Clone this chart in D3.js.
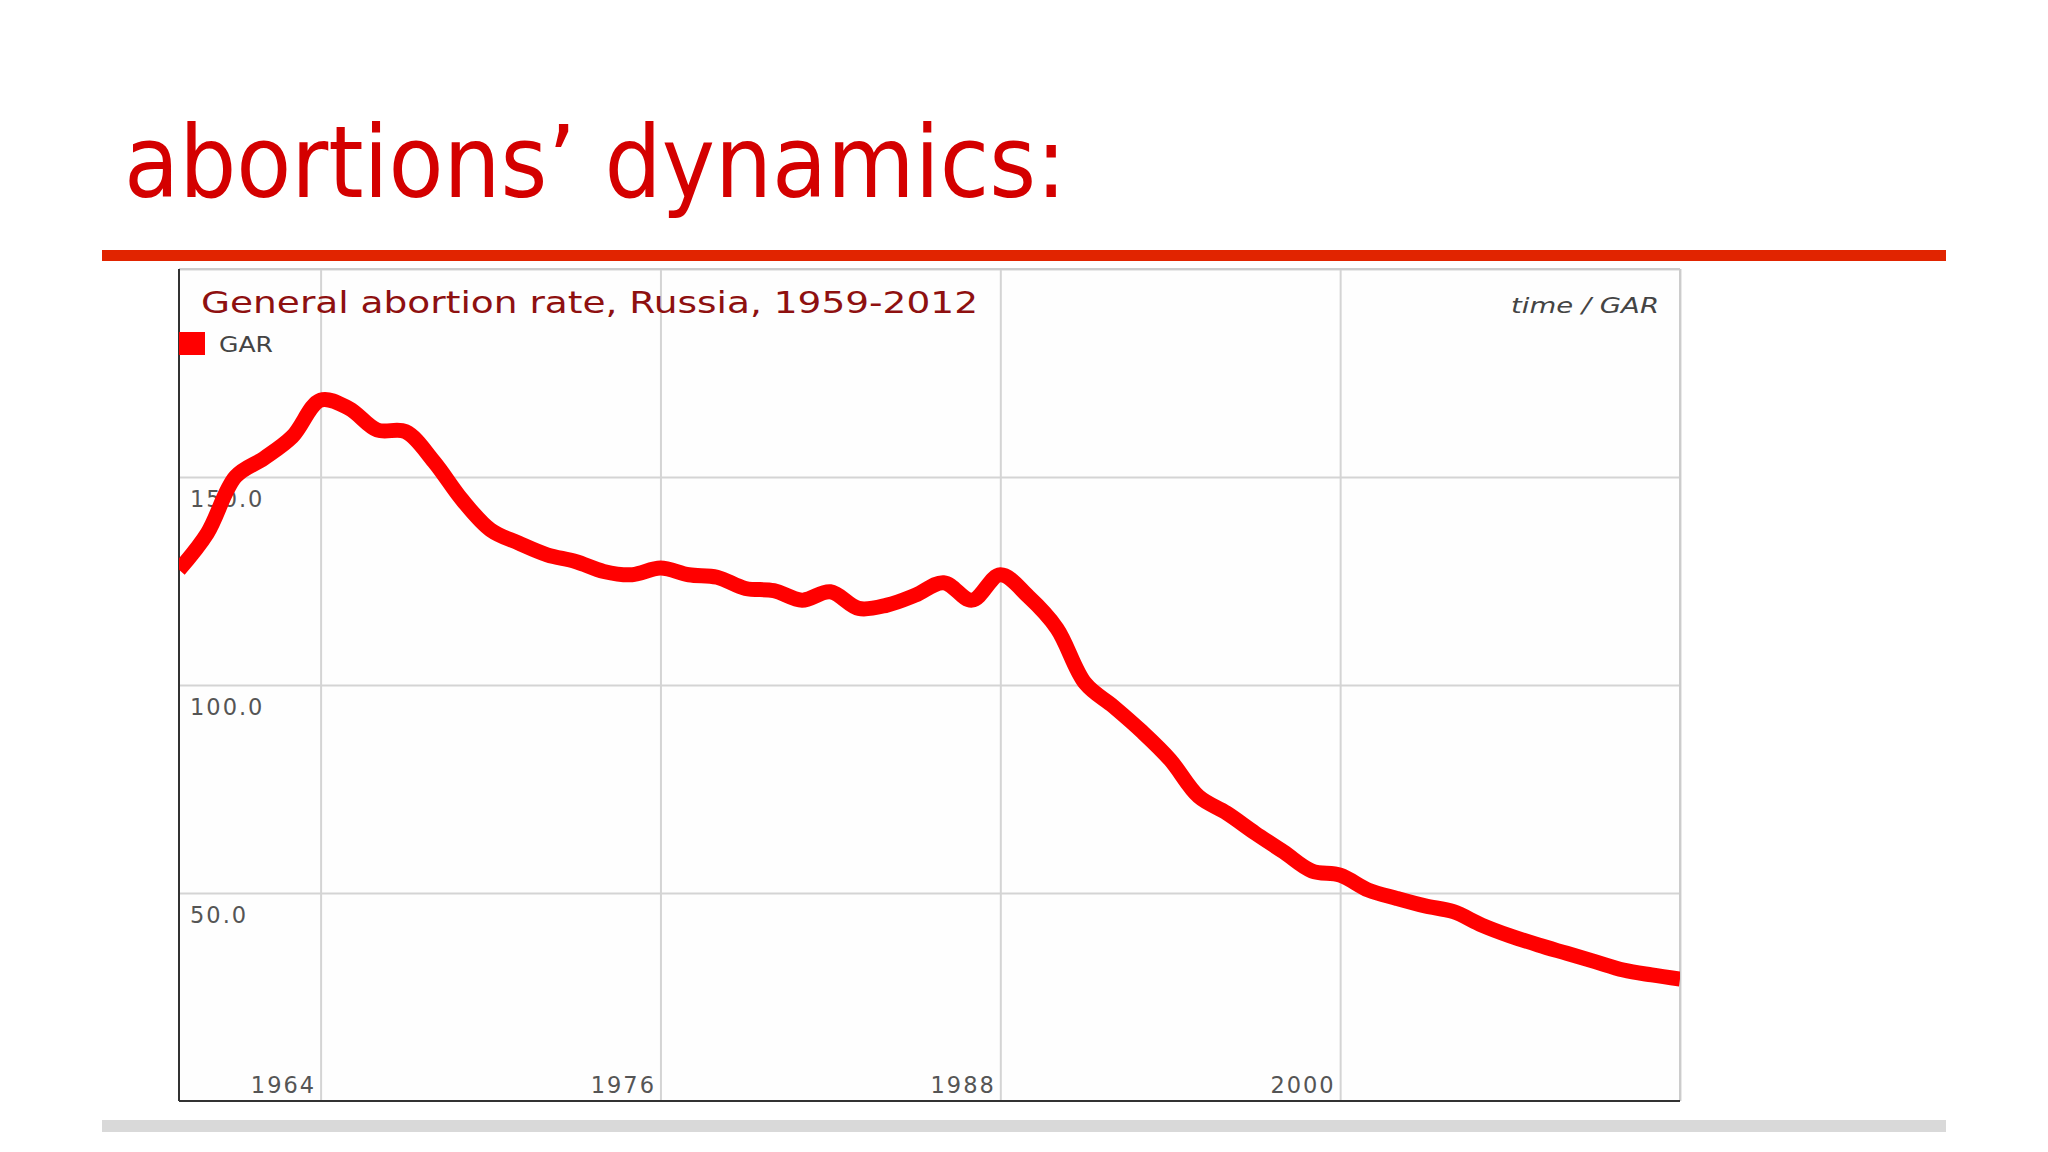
<!DOCTYPE html>
<html>
<head>
<meta charset="utf-8">
<script src="https://cdn.jsdelivr.net/npm/d3@7"></script>
<style>
  body { margin: 0; background: #ffffff; }
  svg { display: block; }
  .tick line { stroke: #d4d4d4; stroke-width: 2px; }
  .tick text { fill: #555; font-family: "DejaVu Sans", sans-serif; font-size: 22.5px; letter-spacing: 2px; }
</style>
</head>
<body>
<svg width="2048" height="1152"></svg>
<script>
// GAR values, one per year 1959-2012
const years = d3.range(1959, 2013);
const garValues = [
  127.7, 136.5, 150.1, 154.5, 159.7, 168.5, 166.5, 161.3, 160.9, 153.7,
  144.5, 137.3, 134.1, 131.3, 129.7, 127.3, 126.5, 128.1, 126.5, 125.9,
  123.2, 122.7, 120.4, 122.4, 118.4, 119.2, 121.6, 124.6, 120.4, 126.5,
  121.2, 113.6, 100.4, 94.8, 88.8, 82.0, 73.2, 69.2, 64.4, 59.9,
  55.3, 54.3, 50.7, 48.7, 46.9, 45.5, 42.3, 39.7, 37.5, 35.5,
  33.5, 31.5, 30.3, 29.3
];
const xTicks = [1964, 1976, 1988, 2000, 2012];
const yTicks = [50, 100, 150, 200];
const pageTitle = "abortions\u2019 dynamics:";
const chartTitle = "General abortion rate, Russia, 1959-2012";
const seriesName = "GAR";

const svg = d3.select("svg");
const margin = { top: 269, left: 179 };
const width = 1501;
const height = 832;

// slide heading + red rule + grey footer bar
svg.append("text")
  .attr("x", 124).attr("y", 197)
  .style("font-family", '"DejaVu Sans Condensed", "DejaVu Sans", sans-serif')
  .style("font-size", "100px")
  .style("fill", "#d40000")
  .text(pageTitle);

svg.append("rect").attr("x", 102).attr("y", 250).attr("width", 1844).attr("height", 11).attr("fill", "#e12400");
svg.append("rect").attr("x", 102).attr("y", 1120).attr("width", 1844).attr("height", 12).attr("fill", "#d9d9d9");

const g = svg.append("g").attr("transform", `translate(${margin.left},${margin.top})`);

g.append("rect").attr("width", width).attr("height", height).attr("fill", "#fefefe");

const xScale = d3.scaleLinear().domain([1959, 2012]).range([0, width]);
const yScale = d3.scaleLinear().domain([0, 200]).range([height, 0]);

// vertical grid + year labels
const xAxis = d3.axisBottom(xScale)
  .tickValues(xTicks)
  .tickSize(-height)
  .tickFormat(d => d === 2012 ? "" : d);
const gx = g.append("g").attr("transform", `translate(0,${height})`).call(xAxis);
gx.select(".domain").remove();
gx.selectAll(".tick text")
  .attr("text-anchor", "end")
  .attr("x", -5)
  .attr("y", -8.5)
  .attr("dy", 0);

// horizontal grid + value labels
const yAxis = d3.axisLeft(yScale)
  .tickValues(yTicks)
  .tickSize(-width)
  .tickFormat(d => d === 200 ? "" : d.toFixed(1));
const gy = g.append("g").call(yAxis);
gy.select(".domain").remove();
gy.selectAll(".tick text")
  .attr("text-anchor", "start")
  .attr("x", 11)
  .attr("y", 29.5)
  .attr("dy", 0);

// frame: light top/right, dark left/bottom
g.append("line").attr("x1", 0).attr("x2", width).attr("y1", 0).attr("y2", 0).attr("stroke", "#cccccc").attr("stroke-width", 2);
g.append("line").attr("x1", width).attr("x2", width).attr("y1", 0).attr("y2", height).attr("stroke", "#cccccc").attr("stroke-width", 2);
g.append("line").attr("x1", 0).attr("x2", 0).attr("y1", 0).attr("y2", height).attr("stroke", "#333333").attr("stroke-width", 2);
g.append("line").attr("x1", 0).attr("x2", width).attr("y1", height).attr("y2", height).attr("stroke", "#333333").attr("stroke-width", 2);

g.append("clipPath").attr("id", "plot-clip")
  .append("rect").attr("width", width).attr("height", height);

const chartData = years.map((yr, i) => ({ year: yr, gar: garValues[i] }));

const lineGar = d3.line()
  .x(d => xScale(d.year))
  .y(d => yScale(d.gar))
  .curve(d3.curveCatmullRom.alpha(0.5));

g.append("path")
  .datum(chartData)
  .attr("clip-path", "url(#plot-clip)")
  .attr("d", lineGar)
  .attr("fill", "none")
  .attr("stroke", "#ff0000")
  .attr("stroke-width", 15)
  .attr("stroke-linejoin", "round");

// chart title, legend, axis caption
g.append("text")
  .attr("x", 22).attr("y", 44)
  .attr("textLength", 777).attr("lengthAdjust", "spacingAndGlyphs")
  .style("font-family", '"DejaVu Sans", sans-serif')
  .style("font-size", "29.5px")
  .style("fill", "#8e1010")
  .text(chartTitle);

g.append("rect").attr("x", 0).attr("y", 63).attr("width", 26).attr("height", 23).attr("fill", "#ff0000");
g.append("text")
  .attr("x", 40).attr("y", 83)
  .attr("textLength", 54).attr("lengthAdjust", "spacingAndGlyphs")
  .style("font-family", '"DejaVu Sans", sans-serif')
  .style("font-size", "22px")
  .style("fill", "#444")
  .text(seriesName);

g.append("text")
  .attr("x", width - 21).attr("y", 44)
  .attr("text-anchor", "end")
  .attr("textLength", 148).attr("lengthAdjust", "spacingAndGlyphs")
  .style("font-family", '"DejaVu Sans", sans-serif')
  .style("font-style", "italic")
  .style("font-size", "22px")
  .style("fill", "#444")
  .text("time / " + seriesName);
</script>
</body>
</html>
